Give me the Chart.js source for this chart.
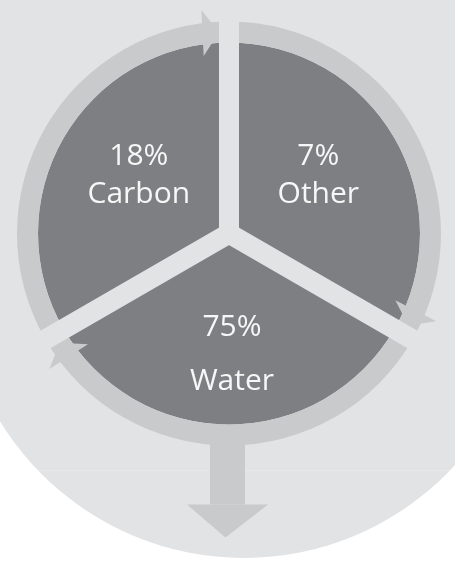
<!DOCTYPE html>
<html>
<head>
<meta charset="utf-8">
<script src="https://cdn.jsdelivr.net/npm/chart.js@4"></script>
<style>
  html, body { margin: 0; padding: 0; background: #ffffff; }
  #wrap { width: 455px; height: 565px; }
</style>
</head>
<body>
<div id="wrap"><canvas id="cycleChart" width="455" height="565"></canvas></div>
<script>
const categories = ['Carbon', 'Other', 'Water'];
const percents = [18, 7, 75];
// the diagram draws the three parts as equal thirds, not to scale
const sliceShares = [1, 1, 1];

const bgGray = '#e2e3e5';
const ringGray = '#c9cacc';
const sliceGray = '#7e7f82';
const textColor = '#f7f7f7';

// where each label block sits inside its slice (fraction of radius along the bisector)
const labelLayout = [
  { r: 0.545, dx: 0, dy: -8.5, gap: 38 },
  { r: 0.54, dx: 0, dy: -9, gap: 38 },
  { r: 0.62, dx: 3, dy: 0, gap: 54 }
];

const diagramPlugin = {
  id: 'diagram',
  beforeDraw(chart) {
    const { ctx, width, height } = chart;
    ctx.save();
    ctx.fillStyle = '#ffffff';
    ctx.fillRect(0, 0, width, height);
    // light backdrop with a round bottom
    ctx.fillStyle = bgGray;
    ctx.beginPath();
    ctx.rect(0, 0, width, 272);
    ctx.moveTo(244 + 286, 272);
    ctx.arc(244, 272, 286, 0, Math.PI * 2);
    ctx.fill();
    // faint seam across the backdrop
    const half = Math.sqrt(286 * 286 - 198 * 198);
    ctx.fillStyle = 'rgba(255,255,255,0.18)';
    ctx.fillRect(244 - half, 470, half * 2, 1);
    ctx.restore();
  },
  beforeDatasetsDraw(chart) {
    const { ctx } = chart;
    const pie = chart.getDatasetMeta(1).data[0];
    const ax = pie.x - 1.5;
    const top = pie.y + pie.outerRadius;
    ctx.save();
    ctx.fillStyle = ringGray;
    ctx.fillRect(ax - 17.5, top - 30, 35, 110);
    ctx.beginPath();
    ctx.moveTo(ax - 40.5, top + 80);
    ctx.lineTo(ax + 40.5, top + 80);
    ctx.lineTo(ax - 2, top + 113);
    ctx.closePath();
    ctx.fill();
    ctx.restore();
  },
  afterDatasetsDraw(chart) {
    const { ctx } = chart;
    const ring = chart.getDatasetMeta(0).data;
    const pie = chart.getDatasetMeta(1).data;
    const cx = pie[0].x, cy = pie[0].y;
    const halfGap = 10;
    ctx.save();

    // gaps between the parts
    ctx.strokeStyle = bgGray;
    ctx.lineWidth = halfGap * 2;
    ctx.lineCap = 'round';
    pie.forEach(arc => {
      const a = arc.startAngle;
      const len = ring[0].outerRadius + 20;
      ctx.beginPath();
      ctx.moveTo(cx, cy);
      ctx.lineTo(cx + len * Math.cos(a), cy + len * Math.sin(a));
      ctx.stroke();
    });

    // arrow heads at the clockwise end of each ring segment
    ctx.fillStyle = ringGray;
    ring.forEach(arc => {
      const rMid = (arc.innerRadius + arc.outerRadius) / 2;
      const a = arc.endAngle - Math.asin(halfGap / rMid);
      const tipX = cx + rMid * Math.cos(a), tipY = cy + rMid * Math.sin(a);
      const tx = -Math.sin(a), ty = Math.cos(a);
      const nx = Math.cos(a), ny = Math.sin(a);
      const bx = tipX - 16.5 * tx, by = tipY - 16.5 * ty;
      ctx.beginPath();
      ctx.moveTo(tipX, tipY);
      ctx.lineTo(bx + 23 * nx, by + 23 * ny);
      ctx.lineTo(bx - 23 * nx, by - 23 * ny);
      ctx.closePath();
      ctx.fill();
    });

    // labels
    const fontSize = 30;
    const capH = fontSize * 0.714;
    ctx.fillStyle = textColor;
    ctx.font = fontSize + 'px "Open Sans"';
    ctx.textAlign = 'center';
    ctx.textBaseline = 'alphabetic';
    pie.forEach((arc, i) => {
      const lay = labelLayout[i];
      const mid = (arc.startAngle + arc.endAngle) / 2;
      const rr = arc.outerRadius * lay.r;
      const lx = cx + rr * Math.cos(mid) + lay.dx;
      const ly = cy + rr * Math.sin(mid) + lay.dy;
      const lines = [percents[i] + '%', categories[i]];
      lines.forEach((t, k) => {
        const base = ly + (k - (lines.length - 1) / 2) * lay.gap + capH / 2;
        ctx.fillText(t, lx, base);
      });
    });
    ctx.restore();
  }
};

new Chart(document.getElementById('cycleChart'), {
  type: 'pie',
  data: {
    labels: categories,
    datasets: [
      {
        label: 'cycle',
        data: sliceShares,
        backgroundColor: ringGray,
        borderWidth: 0,
        weight: 21
      },
      {
        label: 'share',
        data: sliceShares,
        backgroundColor: sliceGray,
        borderWidth: 0,
        weight: 191
      }
    ]
  },
  options: {
    responsive: false,
    animation: false,
    events: [],
    rotation: -120,
    radius: 212,
    layout: {
      padding: { left: 10, right: 7, top: 10, bottom: 108 }
    },
    plugins: {
      legend: { display: false },
      tooltip: { enabled: false }
    }
  },
  plugins: [diagramPlugin]
});
</script>
</body>
</html>
